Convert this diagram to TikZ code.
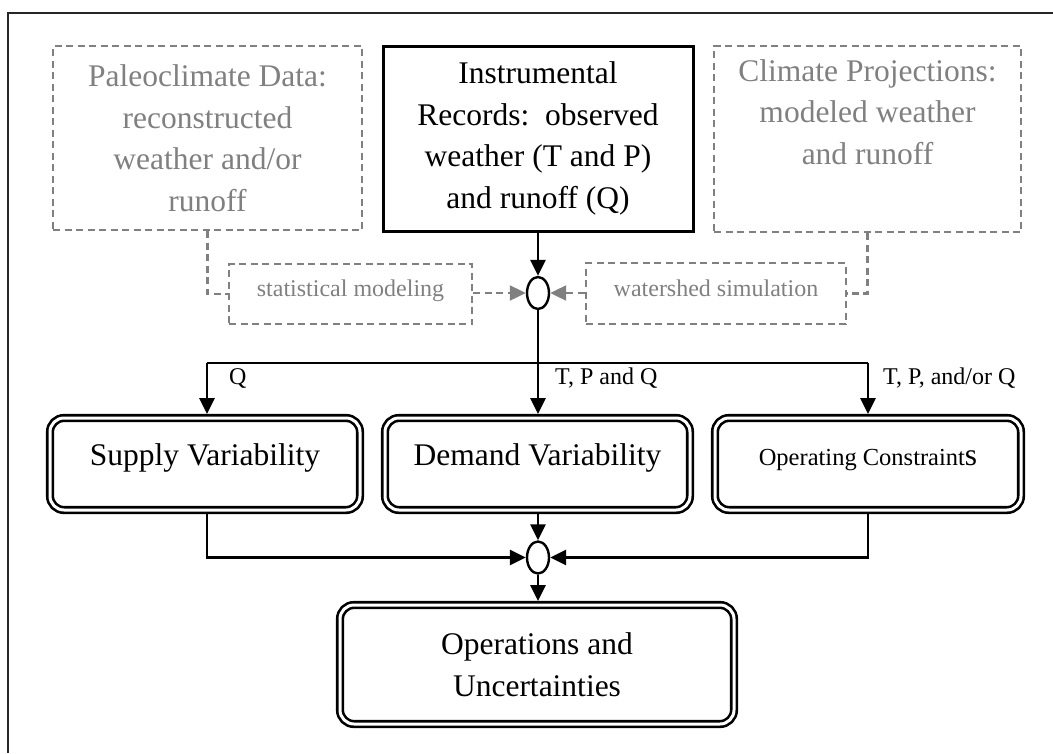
\documentclass[tikz,border=0pt]{standalone}
\usepackage{fontspec}
\setmainfont{Liberation Serif}
\usetikzlibrary{arrows.meta,shapes.geometric}
\definecolor{dgray}{HTML}{808080}
\begin{document}
\begin{tikzpicture}[x=1pt,y=-1pt,
  big/.style={font=\fontsize{31.5}{41.5}\selectfont},
  small/.style={font=\fontsize{24}{28}\selectfont},
  gdash/.style={draw=dgray, line width=2.2pt, dash pattern=on 7pt off 4.5pt},
  gbox/.style={gdash, text=dgray, align=center, inner sep=0pt},
  blk/.style={draw=black, line width=2.8pt},
  tip/.style={-{Triangle[length=16pt,width=15pt]}},
  gtip/.style={-{Triangle[length=16pt,width=15pt,color=dgray,fill=dgray]}},
  dbox/.style={draw=black, double=white, double distance=3pt, line width=2.6pt,
     rounded corners=14pt, outer sep=4pt, align=center, inner sep=0pt},
  vbox/.style={dbox, text height=22pt, text depth=19pt},
  junction/.style={draw=black, ellipse, line width=2.4pt, minimum width=22pt,
     minimum height=32pt, inner sep=0pt, fill=white}
]
\useasboundingbox (0,0) rectangle (1053,753);
\draw[line width=2.4pt, black!85] (8,753) -- (8,13) -- (1053,13);

% top row
\node[gbox, big, minimum width=309pt, minimum height=184pt] (paleo) at (207.5,138)
  {Paleoclimate Data:\\reconstructed\\weather and/or\\runoff};
\node[draw=black, line width=3pt, big, align=center, inner sep=0pt,
  minimum width=310pt, minimum height=185pt] (instr) at (538,138.5)
  {Instrumental\\Records:\ \ observed\\weather (T and P)\\and runoff (Q)};
\node[gbox, big, minimum width=307pt, minimum height=186pt] (clim) at (867.5,139)
  {Climate Projections:\\modeled weather\\and runoff\\\strut};

% middle row
\node[gbox, small, minimum width=243pt, minimum height=60pt, text height=17pt, text depth=12pt] (stat) at (350.5,294)
  {statistical modeling};
\node[gbox, small, minimum width=260pt, minimum height=61pt, text height=17pt, text depth=12pt] (ws) at (716,293.5)
  {watershed simulation};
\node[junction] (e1) at (538,293) {};

\draw[gdash] (paleo.south) |- (stat.west);
\draw[gdash] (clim.south) |- (ws.east);
\draw[gdash, gtip] (stat.east |- e1) -- (e1.west);
\draw[gdash, gtip] (ws.west |- e1) -- (e1.east);
\draw[blk, tip] (instr.south) -- (e1.north);

% distribution bar
\coordinate (hb) at (538,363);
\coordinate (hl) at (207,363);
\coordinate (hr) at (868,363);

% variability boxes
\node[vbox, big, minimum width=310pt, minimum height=92pt] (supply) at (205,464)
  {Supply Variability};
\node[vbox, big, minimum width=305pt, minimum height=92pt] (demand) at (537.5,464)
  {Demand Variability};
\node[vbox, font=\fontsize{24.5}{28}\selectfont, minimum width=306pt, minimum height=92pt] (oper) at (868,464)
  {Operating Constraint{\fontsize{31.5}{41.5}\selectfont s}};

\draw[blk] (e1.south) -- (hb);
\draw[blk] (hl) -- (hr);
\draw[blk, tip] (hl) -- (hl |- supply.north);
\draw[blk, tip] (hb) -- (hb |- demand.north);
\draw[blk, tip] (hr) -- (hr |- oper.north);

\node[small, anchor=west, inner sep=0pt] (lq) at (229,378) {Q};
\node[small, anchor=west, inner sep=0pt] (ltpq) at (555,378) {T, P and Q};
\node[small, anchor=west, inner sep=0pt] (ltpo) at (883,378) {T, P, and/or Q};

% bottom
\node[junction] (e2) at (538,557.5) {};
\node[dbox, big, minimum width=394pt, minimum height=119pt] (ops) at (537,664.5)
  {Operations and\\Uncertainties};

\draw[blk, tip] (demand.south -| e2) -- (e2.north);
\draw[blk, tip] (supply.south -| hl) |- (e2.west);
\draw[blk, tip] (oper.south -| hr) |- (e2.east);
\draw[blk, tip] (e2.south) -- (ops.north -| e2);
\end{tikzpicture}
\end{document}
